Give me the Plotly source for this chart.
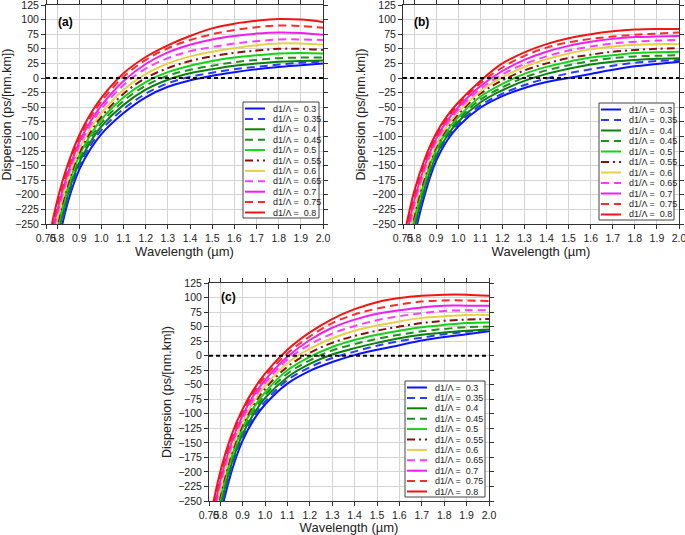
import plotly.graph_objects as go

# ---------------- data ----------------
WL = [0.75, 0.8, 0.85, 0.9, 0.95, 1.0, 1.1, 1.2, 1.3, 1.4, 1.5, 1.6, 1.7, 1.8, 1.9, 2.0]
RATIOS = ["0.3", "0.35", "0.4", "0.45", "0.5", "0.55", "0.6", "0.65", "0.7", "0.75", "0.8"]
X_TICKS = [0.75, 0.8, 0.9, 1.0, 1.1, 1.2, 1.3, 1.4, 1.5, 1.6, 1.7, 1.8, 1.9, 2.0]
X_TICK_TEXT = ["0.75", "0.8", "0.9", "1.0", "1.1", "1.2", "1.3", "1.4", "1.5", "1.6", "1.7", "1.8", "1.9", "2.0"]
Y_TICKS = [-250, -225, -200, -175, -150, -125, -100, -75, -50, -25, 0, 25, 50, 75, 100, 125]

# panel (a)
a_030 = [-380, -290, -211, -157, -122, -96, -60, -33, -15, -4, 4, 10, 15, 19, 22, 25]
a_035 = [-371, -282, -205, -151, -116, -89, -53, -27, -9, 2, 9, 15, 19, 23, 26, 28]
a_040 = [-363, -274, -198, -145, -110, -83, -46, -20, -3, 8, 15, 21, 25, 28, 29, 30]
a_045 = [-354, -267, -192, -139, -104, -77, -39, -13, 4, 14, 21, 27, 31, 34, 35, 35]
a_050 = [-346, -259, -186, -133, -98, -71, -33, -7, 10, 21, 29, 35, 39, 42, 43, 42]
a_055 = [-337, -251, -180, -128, -93, -66, -27, 0, 17, 29, 37, 43, 47, 50, 50, 48]
a_060 = [-329, -243, -173, -122, -87, -60, -20, 7, 25, 37, 45, 51, 56, 59, 59, 57]
a_065 = [-320, -235, -167, -116, -81, -53, -12, 16, 34, 46, 53, 59, 63, 66, 66, 65]
a_070 = [-312, -228, -161, -110, -75, -47, -5, 24, 44, 57, 66, 72, 76, 78, 77, 74]
a_075 = [-303, -220, -154, -104, -68, -40, 2, 31, 51, 65, 75, 82, 87, 90, 89, 86]
a_080 = [-301, -211, -146, -98, -62, -34, 8, 36, 56, 72, 85, 93, 98, 101, 100, 96]

# panel (b)
b_030 = [-390, -275, -198, -142, -107, -83, -51, -31, -17, -7, 0, 7, 14, 20, 24, 28]
b_035 = [-379, -267, -192, -137, -103, -79, -47, -27, -12, -1, 8, 15, 21, 26, 29, 31]
b_040 = [-368, -259, -186, -133, -99, -75, -42, -21, -5, 7, 16, 23, 28, 31, 33, 34]
b_045 = [-357, -251, -180, -128, -94, -71, -37, -16, 1, 13, 22, 29, 34, 37, 38, 39]
b_050 = [-346, -243, -174, -123, -90, -67, -32, -10, 7, 19, 28, 35, 39, 43, 44, 45]
b_055 = [-335, -235, -167, -118, -86, -62, -27, -4, 13, 25, 34, 40, 45, 48, 50, 51]
b_060 = [-324, -227, -161, -114, -82, -58, -23, 1, 19, 32, 42, 49, 54, 57, 58, 58]
b_065 = [-313, -219, -155, -109, -78, -54, -19, 6, 24, 37, 47, 54, 59, 62, 64, 65]
b_070 = [-302, -211, -149, -104, -73, -50, -14, 12, 31, 45, 55, 62, 67, 70, 71, 72]
b_075 = [-291, -203, -143, -100, -69, -46, -9, 18, 38, 52, 61, 67, 71, 74, 76, 78]
b_080 = [-280, -195, -137, -95, -65, -42, -5, 25, 44, 58, 68, 75, 80, 83, 84, 84]

# panel (c)
c_030 = [-390, -278, -200, -146, -110, -84, -48, -26, -11, 1, 10, 18, 26, 32, 37, 42]
c_035 = [-380, -270, -194, -141, -105, -79, -42, -20, -4, 7, 17, 25, 31, 37, 41, 44]
c_040 = [-370, -262, -187, -135, -100, -73, -37, -14, 2, 13, 22, 30, 36, 40, 43, 45]
c_045 = [-360, -255, -181, -130, -94, -68, -31, -8, 9, 20, 29, 36, 42, 46, 49, 50]
c_050 = [-350, -247, -175, -124, -89, -63, -25, -2, 15, 27, 36, 43, 49, 53, 56, 57]
c_055 = [-340, -239, -168, -119, -84, -57, -19, 5, 22, 34, 43, 50, 56, 60, 62, 63]
c_060 = [-330, -231, -162, -114, -79, -52, -13, 12, 30, 43, 52, 59, 65, 68, 70, 70]
c_065 = [-320, -223, -156, -108, -74, -47, -7, 19, 38, 51, 61, 68, 73, 77, 78, 78]
c_070 = [-310, -216, -150, -103, -68, -42, -2, 27, 48, 62, 72, 78, 83, 86, 86, 86]
c_075 = [-300, -208, -143, -97, -63, -36, 4, 33, 56, 71, 81, 88, 93, 95, 95, 94]
c_080 = [-290, -200, -137, -92, -58, -31, 10, 40, 63, 80, 92, 99, 103, 105, 105, 103]

SERIES_A = [a_030, a_035, a_040, a_045, a_050, a_055, a_060, a_065, a_070, a_075, a_080]
SERIES_B = [b_030, b_035, b_040, b_045, b_050, b_055, b_060, b_065, b_070, b_075, b_080]
SERIES_C = [c_030, c_035, c_040, c_045, c_050, c_055, c_060, c_065, c_070, c_075, c_080]

# ---------------- styles ----------------
DASH = "8px,5px"
DASHDOT = "8px,4px,2px,4px"
STYLES = [
    ("#0a14ff", "solid"), ("#2a3cff", DASH),
    ("#0a820a", "solid"), ("#1f8f1f", DASH),
    ("#14d214", "solid"), ("#8a1010", DASHDOT),
    ("#e6d04a", "solid"), ("#ff3cff", DASH),
    ("#f01ef0", "solid"), ("#ff2a2a", DASH),
    ("#f01414", "solid"),
]

W, H = 685, 535
FONT = "Liberation Sans, Arial, sans-serif"


def px(x):
    return x / W


def py(y):
    return 1 - y / H


PANELS = [
    dict(n="", series=SERIES_A, dom=(46, 323, 5, 224), box=(243, 102, 319, 218), lab="(a)", labpos=(56, 22)),
    dict(n="2", series=SERIES_B, dom=(403, 679, 5, 224), box=(599, 103, 674, 220), lab="(b)", labpos=(412, 22)),
    dict(n="3", series=SERIES_C, dom=(209, 489, 283, 501), box=(405, 381, 485, 497), lab="(c)", labpos=(219, 297)),
]

fig = go.Figure()
shapes = []
annotations = []
layout = {}

for p in PANELS:
    n = p["n"]
    xa, ya = "x" + n, "y" + n
    x0, x1, y0, y1 = p["dom"]
    for vals, (col, dash) in zip(p["series"], STYLES):
        fig.add_trace(go.Scatter(
            x=WL, y=vals, mode="lines", xaxis=xa, yaxis=ya, showlegend=False,
            line=dict(color=col, dash=dash, width=2, shape="spline", smoothing=1.0),
            hoverinfo="skip"))
    layout["xaxis" + n] = dict(
        domain=[px(x0), px(x1)], anchor=ya, range=[0.75, 2.0],
        tickvals=X_TICKS, ticktext=X_TICK_TEXT, tickangle=0, ticklabeloverflow="allow",
        ticks="outside", ticklen=4, tickwidth=1, tickcolor="#333",
        showline=True, linecolor="#333", linewidth=1, mirror="ticks",
        showgrid=True, gridcolor="#d4d4d4", gridwidth=1, zeroline=False,
        tickfont=dict(size=10.5, color="#222", family=FONT),
        title=dict(text="Wavelength (µm)", font=dict(size=13, color="#222", family=FONT), standoff=3),
        automargin=False)
    layout["yaxis" + n] = dict(
        domain=[py(y1), py(y0)], anchor=xa, range=[-250, 125],
        tickvals=Y_TICKS, ticklabeloverflow="allow",
        ticks="outside", ticklen=4, tickwidth=1, tickcolor="#333",
        showline=True, linecolor="#333", linewidth=1, mirror="ticks",
        showgrid=True, gridcolor="#d4d4d4", gridwidth=1, zeroline=False,
        tickfont=dict(size=10.5, color="#222", family=FONT),
        title=dict(text="Dispersion (ps/[nm.km])", font=dict(size=12.5, color="#222", family=FONT), standoff=3),
        automargin=False)
    # zero reference line
    shapes.append(dict(type="line", xref=xa + " domain", yref=ya, x0=0, x1=1, y0=0, y1=0,
                       line=dict(color="black", width=2, dash="4px,3px"), layer="above"))
    # panel label
    lx, ly = p["labpos"]
    annotations.append(dict(text="<b>" + p["lab"] + "</b>", xref="paper", yref="paper",
                            x=px(lx), y=py(ly), xanchor="left", yanchor="middle", showarrow=False,
                            font=dict(size=12, color="black", family=FONT)))
    # compact legend box
    bx0, by0, bx1, by1 = p["box"]
    shapes.append(dict(type="rect", xref="paper", yref="paper", x0=px(bx0), x1=px(bx1),
                       y0=py(by1), y1=py(by0), fillcolor="white",
                       line=dict(color="#444", width=1), layer="above"))
    step = (by1 - by0 - 12) / (len(RATIOS) - 1)
    for i, (r, (col, dash)) in enumerate(zip(RATIOS, STYLES)):
        yc = by0 + 6.5 + i * step
        shapes.append(dict(type="line", xref="paper", yref="paper", x0=px(bx0 + 2), x1=px(bx0 + 22),
                           y0=py(yc), y1=py(yc), line=dict(color=col, width=2, dash=dash), layer="above"))
        annotations.append(dict(text="d1/Λ = \u00a0" + r, xref="paper", yref="paper",
                                x=px(bx0 + 28), y=py(yc), xanchor="left", yanchor="middle",
                                showarrow=False, font=dict(size=9, color="#222", family=FONT)))

fig.update_layout(
    width=W, height=H, margin=dict(l=0, r=0, t=0, b=0),
    paper_bgcolor="white", plot_bgcolor="white", template="none",
    font=dict(family=FONT), showlegend=False,
    shapes=shapes, annotations=annotations, **layout)

fig.write_html("out.html", config={"displayModeBar": False},
               post_script="document.body.style.margin='0';document.body.style.padding='0';")
